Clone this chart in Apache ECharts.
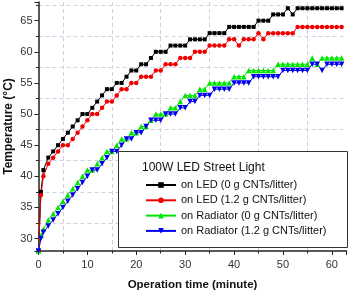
<!DOCTYPE html>
<html><head><meta charset="utf-8">
<script src="https://cdn.jsdelivr.net/npm/echarts@6/dist/echarts.min.js"></script>
<style>html,body{margin:0;padding:0;background:#fff}#c{width:350px;height:292px}</style>
</head><body><div id="c"></div>
<script>
const times = [0,0.5,1,2,3,4,5,6,7,8,9,10,11,12,13,14,15,16,17,18,19,20,21,22,23,24,25,26,27,28,29,30,31,32,33,34,35,36,37,38,39,40,41,42,43,44,45,46,47,48,49,50,51,52,53,54,55,56,57,58,59,60,61,62];
const ledNoCnt = [28,37.5,41,43,44,45,46,47,48,49,50,50,51,52,53,54,54,55,55,56,57,57,58,58,59,60,60,60,61,61,61,61,62,62,62,62,63,63,63,63,64,64,64,64,64,64,65,65,65,66,66,66,67,66,67,67,67,67,67,67,67,67,67,67];
const ledCnt = [28,37,40,42,43,44,45,45,46,47,48,49,50,50,51,52,52,53,54,54,55,55,56,56,56,57,57,58,58,58,59,59,59,60,60,60,61,61,61,61,62,62,61,62,62,62,63,62,63,63,63,63,63,63,64,64,64,64,64,64,64,64,64,64];
const radNoCnt = [28,30.5,31.5,33,34,35,36,37,38,39,40,41,41,42,43,44,44,45,46,46,47,47,48,48,49,50,50,50,51,51,52,53,53,53,54,54,55,55,55,55,55,56,56,56,57,57,57,57,57,57,58,58,58,58,58,58,58,59,58,59,59,59,59,59];
const radCnt = [28,30,31,32,33,34,35,36,37,38,39,40,41,41,42,43,44,44,45,46,46,47,47,48,49,49,49,50,50,50,51,51,52,52,53,53,53,54,54,54,54,55,55,55,55,56,56,56,56,56,56,57,57,57,57,57,57,58,58,57,58,58,58,58];
const seriesNames = ['on LED (0 g CNTs/litter)','on LED (1.2 g CNTs/litter)','on Radiator (0 g CNTs/litter)','on Radiator (1.2 g CNTs/litter)'];
const legendTitle = '100W LED Street Light';
const xName = 'Operation time (minute)';
const yName = 'Temperature (°C)';

const font = '"Liberation Sans", Arial, sans-serif';
function pairs(ys){ return times.map(function(t,i){ return [t, ys[i]]; }); }
const styles = [
  {color:'#000000', symbol:'rect', size:4, rot:0},
  {color:'#ee0000', symbol:'circle', size:4.5, rot:0},
  {color:'#00e600', symbol:'triangle', size:5.5, rot:0},
  {color:'#0000ee', symbol:'triangle', size:5.5, rot:180}
];
const allData = [ledNoCnt, ledCnt, radNoCnt, radCnt];
const chart = echarts.init(document.getElementById('c'), null, {renderer:'canvas'});
function axisCommon(){ return {
  axisLine:{show:true,onZero:false,lineStyle:{color:'#222',width:1.5}},
  axisTick:{show:true,length:4,lineStyle:{color:'#222',width:1}},
  minorTick:{show:true,splitNumber:2,length:2.5,lineStyle:{color:'#222',width:1}},
  splitLine:{show:false},
  minorSplitLine:{show:true,lineStyle:{color:'#cfd0e2',type:[4,3],width:1}}
}; }
const option = {
  animation:false,
  backgroundColor:'#ffffff',
  grid:{left:38.5, right:3.5, top:2, bottom:41, outerBoundsMode:'none', containLabel:false},
  xAxis:Object.assign({type:'value', min:0, max:63, splitNumber:6, minInterval:10, maxInterval:10,
    name:xName, nameLocation:'middle', nameGap:28, nameMoveOverlap:false,
    nameTextStyle:{fontFamily:font,fontWeight:'bold',fontSize:11.5,color:'#111'},
    axisLabel:{fontFamily:font,fontSize:11,color:'#333',margin:8,showMaxLabel:false}}, axisCommon()),
  yAxis:Object.assign({type:'value', min:28, max:68, splitNumber:8, minInterval:5, maxInterval:5,
    name:yName, nameLocation:'middle', nameGap:24, nameMoveOverlap:false,
    nameTextStyle:{fontFamily:font,fontWeight:'bold',fontSize:12,color:'#111'},
    axisLabel:{fontFamily:font,fontSize:11,color:'#333',margin:6,showMinLabel:false,showMaxLabel:false}}, axisCommon()),
  legend:{orient:'vertical', left:140, top:174, itemWidth:30, itemHeight:7, itemGap:3.3,
    textStyle:{fontFamily:font,fontSize:11,color:'#111',lineHeight:12},
    data:seriesNames, selectedMode:false, z:6},
  graphic:[
    {type:'rect', left:118, top:151, z:5, shape:{width:229, height:96}, style:{fill:'#fff', stroke:'#333', lineWidth:1}},
    {type:'text', left:142, top:162, z:6, style:{text:legendTitle, fontFamily:font, fontSize:12, fill:'#111'}}
  ],
  series: allData.map(function(d,i){
    const s = styles[i];
    return {type:'line', name:seriesNames[i], data:pairs(d), symbol:s.symbol, symbolSize:s.size, symbolRotate:s.rot,
      showAllSymbol:true, lineStyle:{color:s.color,width:1}, itemStyle:{color:s.color}, z:2};
  })
};
chart.setOption(option);
</script></body></html>
